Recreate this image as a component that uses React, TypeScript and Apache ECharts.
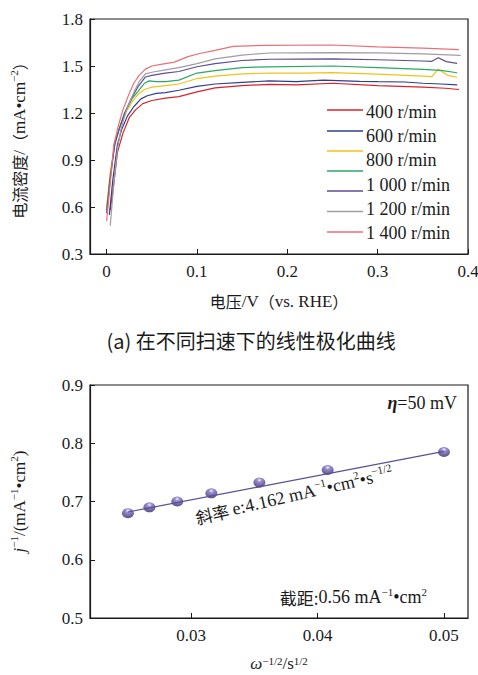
import React, { useEffect, useRef } from 'react';
import * as echarts from 'echarts';

const SERIF = '"Liberation Serif", "Times New Roman", "Noto Sans CJK SC", serif';
const CJK = '"Noto Sans CJK SC", "Liberation Serif", sans-serif';

// ---- Panel (a): linear polarization curves ----
const curveNames = ['400 r/min', '600 r/min', '800 r/min', '1 000 r/min', '1 200 r/min', '1 400 r/min', '1 600 r/min'];
const curveColors = ['#d9232a', '#2f3f8f', '#f2c21b', '#2aa866', '#5d4d94', '#a09ca3', '#ec6f78'];
const legendLabels = ['400 r/min', '600 r/min', '800 r/min', '1 000 r/min', '1 200 r/min', '1 400 r/min'];

const curve400 = [[0.004, 0.58], [0.008, 0.75], [0.012, 0.95], [0.018, 1.07], [0.025, 1.17], [0.032, 1.22], [0.04, 1.26], [0.05, 1.28], [0.065, 1.295], [0.08, 1.305], [0.1, 1.335], [0.12, 1.36], [0.15, 1.375], [0.18, 1.383], [0.21, 1.38], [0.25, 1.39], [0.3, 1.375], [0.35, 1.365], [0.375, 1.358], [0.39, 1.35]];
const curve600 = [[0.003, 0.55], [0.007, 0.78], [0.012, 1.0], [0.017, 1.1], [0.023, 1.18], [0.03, 1.24], [0.038, 1.29], [0.045, 1.31], [0.055, 1.325], [0.065, 1.33], [0.08, 1.345], [0.1, 1.37], [0.12, 1.385], [0.15, 1.395], [0.18, 1.405], [0.21, 1.4], [0.24, 1.41], [0.28, 1.402], [0.3, 1.4], [0.33, 1.398], [0.35, 1.39], [0.37, 1.385], [0.388, 1.379]];
const curve800 = [[0, 0.6], [0.004, 0.82], [0.009, 1.0], [0.014, 1.1], [0.02, 1.19], [0.028, 1.27], [0.035, 1.32], [0.042, 1.35], [0.05, 1.365], [0.065, 1.375], [0.08, 1.385], [0.1, 1.42], [0.12, 1.435], [0.15, 1.45], [0.18, 1.455], [0.22, 1.455], [0.25, 1.458], [0.3, 1.448], [0.35, 1.435], [0.36, 1.432], [0.367, 1.48], [0.378, 1.44], [0.388, 1.428]];
const curve1000 = [[0, 0.58], [0.004, 0.8], [0.009, 1.0], [0.014, 1.1], [0.02, 1.2], [0.028, 1.29], [0.035, 1.34], [0.042, 1.39], [0.047, 1.405], [0.055, 1.4], [0.065, 1.4], [0.08, 1.41], [0.1, 1.455], [0.12, 1.47], [0.15, 1.49], [0.18, 1.495], [0.25, 1.5], [0.3, 1.49], [0.35, 1.478], [0.37, 1.472], [0.388, 1.457]];
const curve1200 = [[0, 0.56], [0.004, 0.78], [0.009, 1.0], [0.014, 1.1], [0.02, 1.2], [0.028, 1.3], [0.035, 1.37], [0.043, 1.43], [0.05, 1.44], [0.065, 1.455], [0.08, 1.465], [0.1, 1.495], [0.12, 1.515], [0.15, 1.535], [0.18, 1.543], [0.25, 1.545], [0.3, 1.54], [0.35, 1.532], [0.36, 1.53], [0.367, 1.553], [0.376, 1.528], [0.388, 1.517]];
const curve1400 = [[0.004, 0.48], [0.008, 0.75], [0.012, 0.97], [0.016, 1.1], [0.022, 1.22], [0.03, 1.33], [0.036, 1.4], [0.043, 1.45], [0.05, 1.46], [0.065, 1.475], [0.08, 1.49], [0.1, 1.515], [0.12, 1.545], [0.15, 1.57], [0.18, 1.583], [0.25, 1.586], [0.3, 1.584], [0.35, 1.578], [0.392, 1.568]];
const curve1600 = [[0, 0.51], [0.004, 0.75], [0.008, 1.0], [0.013, 1.12], [0.018, 1.22], [0.024, 1.31], [0.03, 1.39], [0.036, 1.44], [0.043, 1.48], [0.05, 1.5], [0.06, 1.51], [0.075, 1.525], [0.09, 1.56], [0.103, 1.58], [0.12, 1.6], [0.14, 1.625], [0.176, 1.632], [0.25, 1.634], [0.3, 1.622], [0.35, 1.614], [0.39, 1.605]];
const curves = [curve400, curve600, curve800, curve1000, curve1200, curve1400, curve1600];

const topXTicks = [0, 0.1, 0.2, 0.3, 0.4];

// ---- Panel (b): Koutecky-Levich ----
const omegaInvSqrt = [0.025, 0.0267, 0.0289, 0.0316, 0.0354, 0.0408, 0.05];
const jInv = [0.68, 0.69, 0.7, 0.714, 0.7325, 0.754, 0.785];
const fitX = [0.025, 0.05];
const fitY = [0.682, 0.786];
const bottomXTicks = [0.03, 0.04, 0.05];

const mainRich = (size: number, lh: number) => ({
  sup: { fontFamily: SERIF, fontSize: 11, lineHeight: 11, verticalAlign: 'top', color: '#1a1a1a' },
  n: { fontFamily: SERIF, fontSize: size, lineHeight: lh, color: '#1a1a1a', verticalAlign: 'middle' },
  i: { fontFamily: SERIF, fontSize: size, lineHeight: lh, fontStyle: 'italic', color: '#1a1a1a', verticalAlign: 'middle' },
  c: { fontFamily: CJK, fontSize: size - 1, lineHeight: lh, color: '#1a1a1a', verticalAlign: 'middle' },
});

export default function App() {
  const ref = useRef<HTMLDivElement>(null);
  useEffect(() => {
    if (!ref.current) return;
    const chart = echarts.init(ref.current, undefined, { renderer: 'svg' });
    const axisLine = { show: true, onZero: false, lineStyle: { color: '#1a1a1a', width: 1.2 } };
    const labelStyle = { fontFamily: SERIF, fontSize: 17, color: '#1a1a1a' };

    const legendGraphics: any[] = [];
    const legendLineY = [110, 131, 151, 171, 191, 211.5, 232];
    curveColors.forEach((c, i) => {
      legendGraphics.push({
        type: 'line', silent: true,
        shape: { x1: 327, y1: legendLineY[i], x2: 363, y2: legendLineY[i] },
        style: { stroke: c, lineWidth: 1.3 },
      });
    });
    const legendTextY = [111.5, 135.5, 160, 184.5, 209, 233];
    legendLabels.forEach((t, i) => {
      legendGraphics.push({
        type: 'text', silent: true, x: 366, y: legendTextY[i],
        style: { text: t, fontFamily: SERIF, fontSize: 18, fill: '#1a1a1a', align: 'left', verticalAlign: 'middle' },
      });
    });

    const option: any = {
      animation: false,
      backgroundColor: '#ffffff',
      grid: [
        { left: 90, top: 19, right: 10, bottom: 421, show: true, borderColor: '#1a1a1a', borderWidth: 1.2, outerBoundsMode: 'none', containLabel: false },
        { left: 90, top: 385, right: 10, bottom: 57, show: true, borderColor: '#1a1a1a', borderWidth: 1.2, outerBoundsMode: 'none', containLabel: false },
      ],
      xAxis: [
        {
          type: 'value', gridIndex: 0, min: -0.0184, max: 0.4,
          axisLine, splitLine: { show: false },
          axisTick: { inside: true, length: 5, customValues: topXTicks, lineStyle: { color: '#1a1a1a' } },
          axisLabel: { ...labelStyle, margin: 9, customValues: topXTicks, formatter: (v: number) => String(v) },
          name: '{c|电压}{n|/V}{c|（}{n|vs. RHE}{c|）}', nameLocation: 'middle', nameGap: 36,
          nameTextStyle: { rich: mainRich(17, 22) },
        },
        {
          type: 'value', gridIndex: 1, min: 0.022, max: 0.0519,
          axisLine, splitLine: { show: false },
          axisTick: { inside: true, length: 5, customValues: bottomXTicks, lineStyle: { color: '#1a1a1a' } },
          axisLabel: { ...labelStyle, margin: 9, customValues: bottomXTicks, formatter: (v: number) => String(v) },
          name: '{i|ω}{sup|−1/2}{n|/s}{sup|1/2}', nameLocation: 'middle', nameGap: 37,
          nameTextStyle: { rich: mainRich(17, 17) },
        },
      ],
      yAxis: [
        {
          type: 'value', gridIndex: 0, min: 0.3, max: 1.8, interval: 0.3,
          axisLine, splitLine: { show: false },
          axisTick: { inside: true, length: 5, lineStyle: { color: '#1a1a1a' } },
          axisLabel: { ...labelStyle, margin: 7, formatter: (v: number) => v.toFixed(1) },
          name: '{c|电流密度}{n|/}{c|（}{n|mA•cm}{sup|−2}{c|）}', nameLocation: 'middle', nameGap: 60,
          nameTextStyle: { rich: mainRich(17, 22) },
        },
        {
          type: 'value', gridIndex: 1, min: 0.5, max: 0.9, interval: 0.1,
          axisLine, splitLine: { show: false },
          axisTick: { inside: true, length: 5, lineStyle: { color: '#1a1a1a' } },
          axisLabel: { ...labelStyle, margin: 7, formatter: (v: number) => v.toFixed(1) },
          name: '{i|j}{sup|−1}{n|/(mA}{sup|−1}{n|•cm}{sup|2}{n|)}', nameLocation: 'middle', nameGap: 60,
          nameTextStyle: { rich: mainRich(17, 22) },
        },
      ],
      series: [
        ...curves.map((d, i) => ({
          type: 'line', name: curveNames[i], xAxisIndex: 0, yAxisIndex: 0,
          data: d, showSymbol: false, symbol: 'none', silent: true,
          lineStyle: { color: curveColors[i], width: 1.2 },
        })),
        {
          type: 'line', name: 'fit', xAxisIndex: 1, yAxisIndex: 1,
          data: fitX.map((x, i) => [x, fitY[i]]), showSymbol: false, symbol: 'none', silent: true,
          lineStyle: { color: '#5a4f93', width: 1.2 },
        },
        {
          type: 'scatter', name: 'points', xAxisIndex: 1, yAxisIndex: 1,
          data: omegaInvSqrt.map((x, i) => [x, jInv[i]]), symbol: 'circle', symbolSize: [12, 10], silent: true,
          itemStyle: {
            color: {
              type: 'radial', x: 0.5, y: 0.25, r: 0.8,
              colorStops: [
                { offset: 0, color: '#f4f2ff' },
                { offset: 0.25, color: '#7e70bd' },
                { offset: 0.7, color: '#4a3d88' },
                { offset: 1, color: '#2f2468' },
              ],
            },
          },
        },
      ],
      graphic: [
        ...legendGraphics,
        {
          type: 'text', silent: true, x: 251, y: 340,
          style: {
            text: '(a) 在不同扫速下的线性极化曲线', fontFamily: CJK, fontSize: 20, fill: '#1a1a1a',
            align: 'center', verticalAlign: 'middle',
          },
        },
        {
          type: 'text', silent: true, x: 457, y: 403,
          style: {
            text: '{i|η}{n|=50 mV}', align: 'right', verticalAlign: 'middle',
            rich: { i: { fontFamily: SERIF, fontSize: 18, fontStyle: 'italic', fontWeight: 'bold', fill: '#1a1a1a' }, n: { fontFamily: SERIF, fontSize: 18, fill: '#1a1a1a' } },
          },
        },
        {
          type: 'text', silent: true, x: 427, y: 597,
          style: {
            text: '{c|截距:}{n|0.56 mA}{sup|−1}{n|•cm}{sup|2}', align: 'right', verticalAlign: 'middle',
            rich: {
              c: { fontFamily: CJK, fontSize: 17, lineHeight: 22, fill: '#1a1a1a', verticalAlign: 'middle' },
              n: { fontFamily: SERIF, fontSize: 18, lineHeight: 22, fill: '#1a1a1a', verticalAlign: 'middle' },
              sup: { fontFamily: SERIF, fontSize: 11, lineHeight: 11, fill: '#1a1a1a', verticalAlign: 'top' },
            },
          },
        },
        {
          type: 'text', silent: true, x: 294, y: 495, rotation: 0.225,
          style: {
            text: '{c|斜率 }{n|e:4.162 mA}{sup|−1}{n|•cm}{sup|2}{n|•s}{sup|−1/2}', align: 'center', verticalAlign: 'middle',
            rich: {
              c: { fontFamily: CJK, fontSize: 17, lineHeight: 22, fill: '#1a1a1a', verticalAlign: 'middle' },
              n: { fontFamily: SERIF, fontSize: 18, lineHeight: 22, fill: '#1a1a1a', verticalAlign: 'middle' },
              sup: { fontFamily: SERIF, fontSize: 11, lineHeight: 11, fill: '#1a1a1a', verticalAlign: 'top' },
            },
          },
        },
      ],
    };
    chart.setOption(option);
    return () => chart.dispose();
  }, []);
  return <div ref={ref} style={{ position: 'fixed', left: 0, top: 0, width: 478, height: 675, background: '#fff' }} />;
}
